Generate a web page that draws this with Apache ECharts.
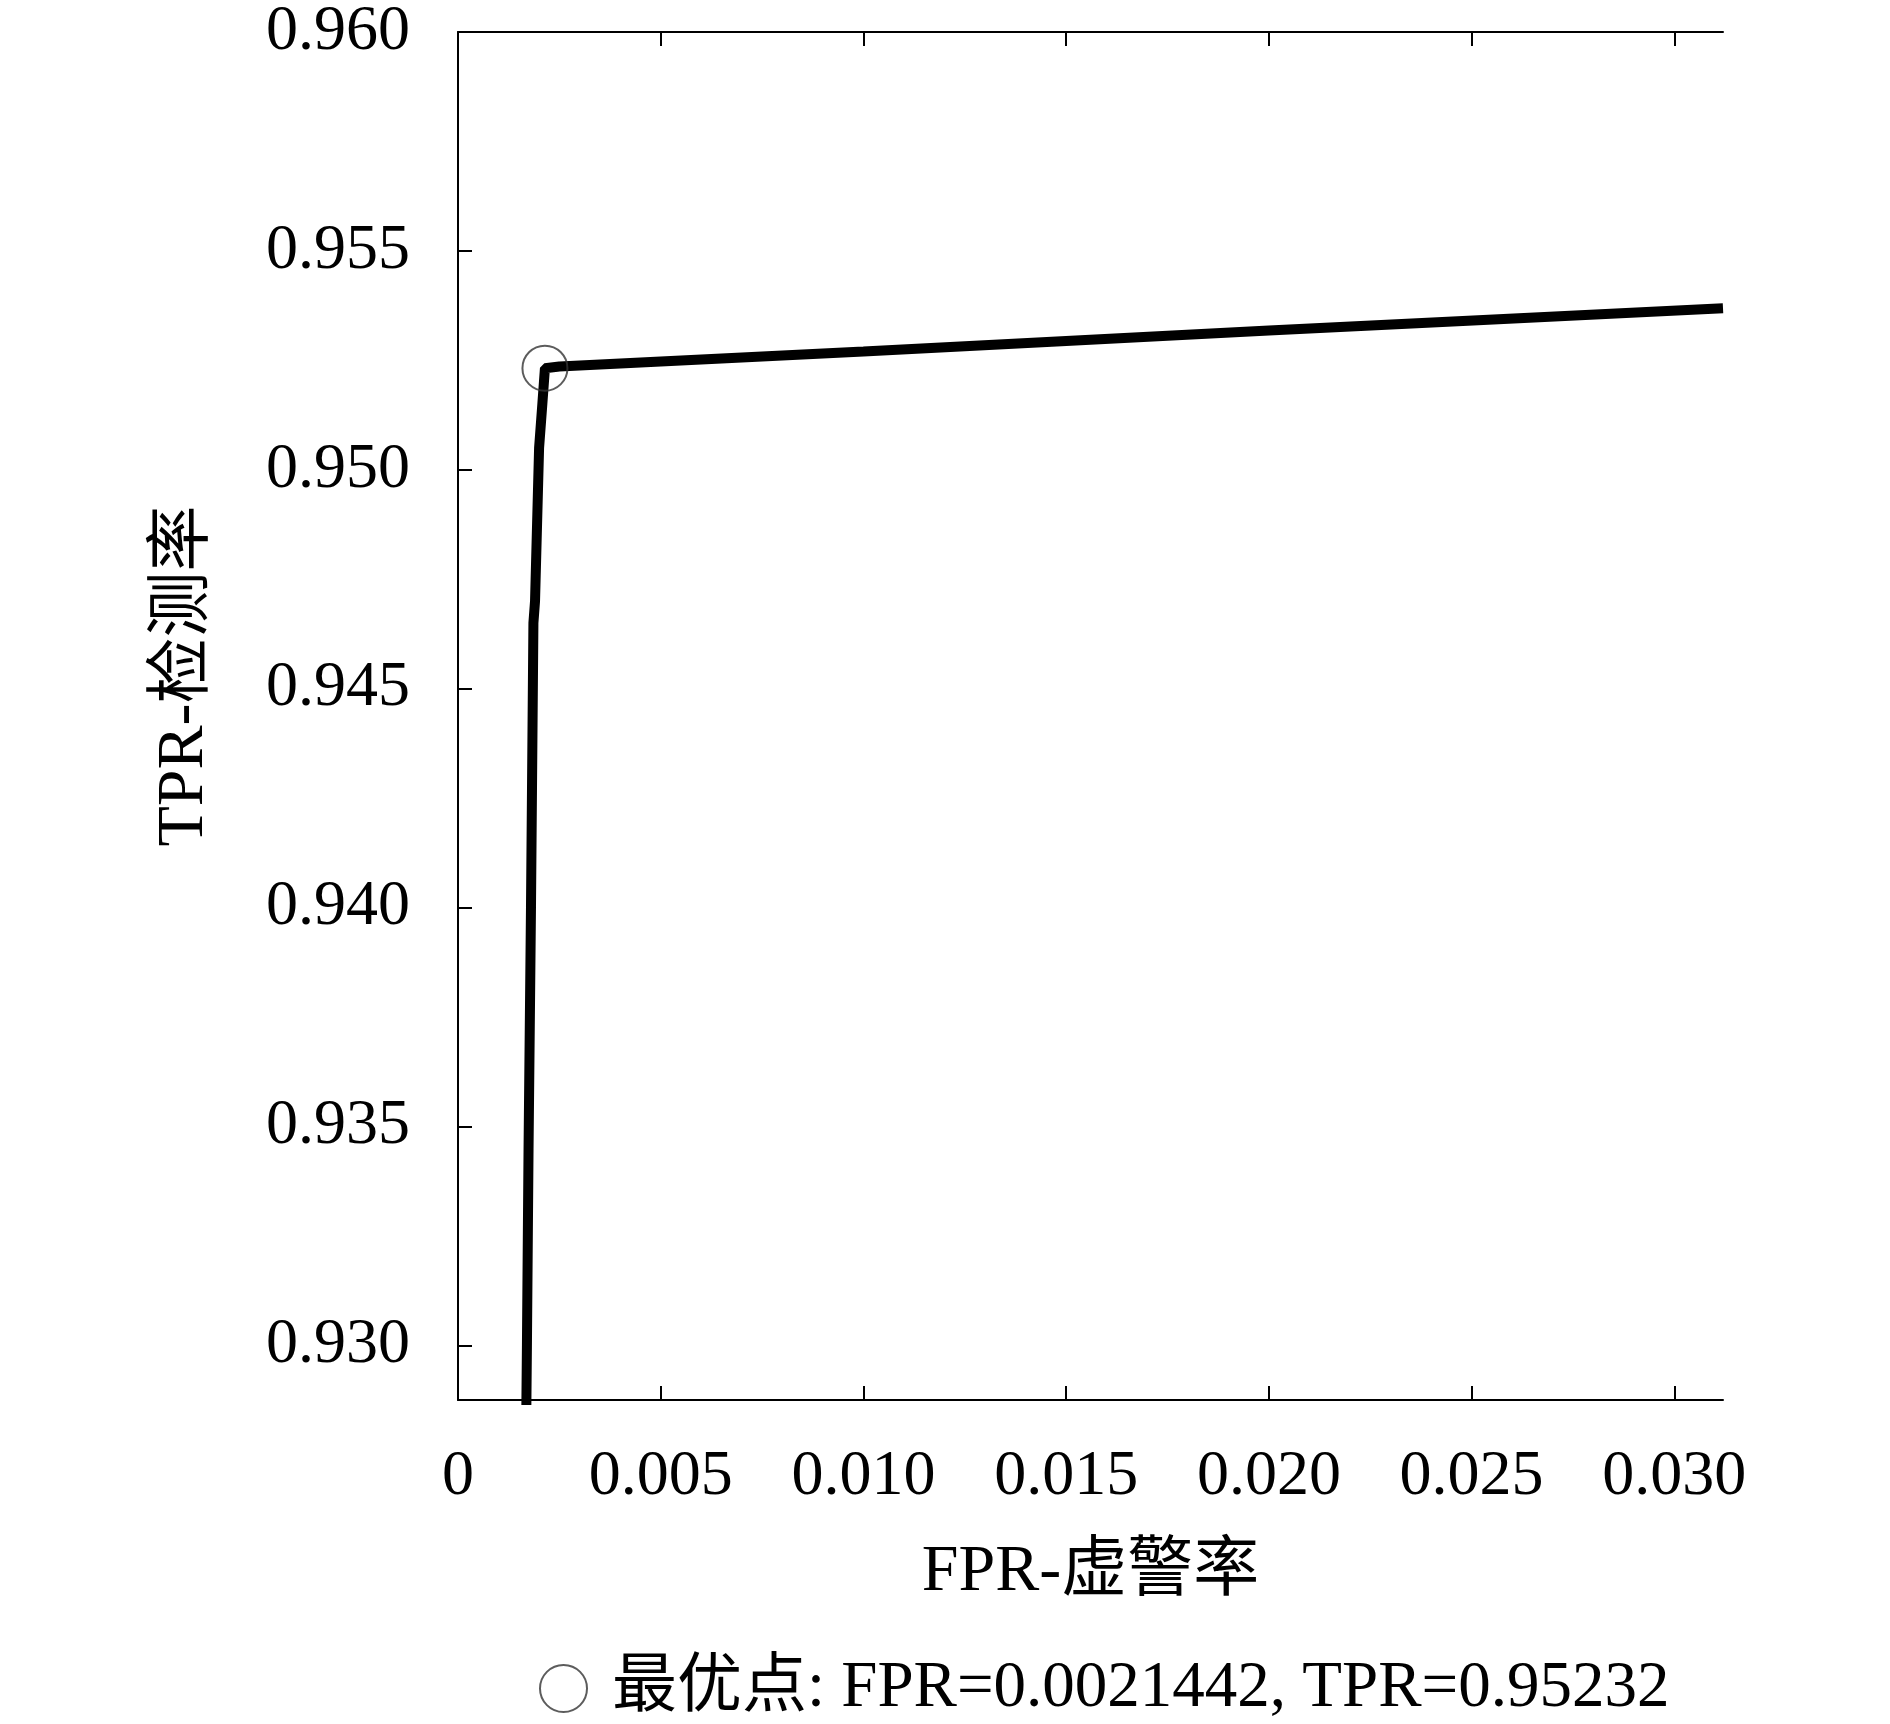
<!DOCTYPE html>
<html>
<head>
<meta charset="utf-8">
<script src="https://cdn.jsdelivr.net/npm/echarts@6/dist/echarts.min.js"></script>
<style>
    html, body { margin: 0; padding: 0; background: #fff; }
    #chart { width: 1890px; height: 1724px; }
</style>
</head>
<body>
<div id="chart"></div>
<script>
    // ROC 曲线（局部放大）
    var fpr = [0.00168, 0.00170, 0.00174, 0.00180, 0.00186, 0.00190, 0.00200, 0.00208, 0.0021442, 0.0025, 0.010, 0.020, 0.0312];
    var tpr = [0.9280, 0.9300, 0.9345, 0.9400, 0.9465, 0.9470, 0.9505, 0.9515, 0.95232, 0.95236, 0.95270, 0.95318, 0.95369];
    var bestPoint = [0.0021442, 0.95232];
    var xTicks = [0, 0.005, 0.010, 0.015, 0.020, 0.025, 0.030];
    var yTicks = [0.930, 0.935, 0.940, 0.945, 0.950, 0.955, 0.960];
    var legendName = '最优点: FPR=0.0021442, TPR=0.95232';

    var font = "'Liberation Serif', 'Times New Roman', 'Noto Sans CJK SC', serif";
    var chart = echarts.init(document.getElementById('chart'));

    var rocData = fpr.map(function (v, i) { return [v, tpr[i]]; });

    var option = {
        backgroundColor: '#fff',
        animation: false,
        grid: {
            left: 458,
            top: 30,
            right: 167,
            bottom: 324
        },
        legend: {
            left: 534,
            top: 1651,
            itemWidth: 47,
            itemHeight: 47,
            data: [legendName],
            textStyle: {
                fontFamily: font,
                fontSize: 65,
                color: '#000',
                padding: [0, 0, 0, 20]
            }
        },
        xAxis: [
            {
                type: 'value',
                position: 'bottom',
                min: 0,
                max: 0.0312,
                name: 'FPR-虚警率',
                nameLocation: 'middle',
                nameGap: 140,
                nameTextStyle: { fontFamily: font, fontSize: 66, color: '#000' },
                splitLine: { show: false },
                axisLine: { lineStyle: { color: '#000', width: 2 } },
                axisTick: { inside: true, length: 14, customValues: xTicks, lineStyle: { color: '#000', width: 2 } },
                axisLabel: {
                    customValues: xTicks,
                    margin: 45,
                    fontFamily: font,
                    fontSize: 64,
                    color: '#000',
                    formatter: function (v) { return v === 0 ? '0' : v.toFixed(3); }
                }
            },
            {
                type: 'value',
                position: 'top',
                min: 0,
                max: 0.0312,
                splitLine: { show: false },
                axisLine: { lineStyle: { color: '#000', width: 2 } },
                axisTick: { inside: true, length: 14, customValues: xTicks, lineStyle: { color: '#000', width: 2 } },
                axisLabel: { show: false }
            }
        ],
        yAxis: {
            type: 'value',
            min: 0.92875,
            max: 0.960,
            name: 'TPR-检测率',
            nameLocation: 'middle',
            nameGap: 240,
            nameTextStyle: { fontFamily: font, fontSize: 66, color: '#000', padding: [0, 0, 0, 80] },
            splitLine: { show: false },
            axisLine: { show: true, lineStyle: { color: '#000', width: 2 } },
            axisTick: { show: true, inside: true, length: 14, customValues: yTicks, lineStyle: { color: '#000', width: 2 } },
            axisLabel: {
                customValues: yTicks,
                margin: 48,
                fontFamily: font,
                fontSize: 64,
                color: '#000',
                formatter: function (v) { return v.toFixed(3); }
            }
        },
        series: [
            {
                name: 'ROC',
                type: 'line',
                data: rocData,
                showSymbol: false,
                clip: true,
                lineStyle: { color: '#000', width: 10 },
                z: 2
            },
            {
                name: legendName,
                type: 'scatter',
                data: [bestPoint],
                symbol: 'circle',
                symbolSize: 45,
                itemStyle: { color: 'rgba(0,0,0,0)', borderColor: '#333', borderWidth: 2 },
                z: 3
            }
        ]
    };
    chart.setOption(option);
</script>
</body>
</html>
